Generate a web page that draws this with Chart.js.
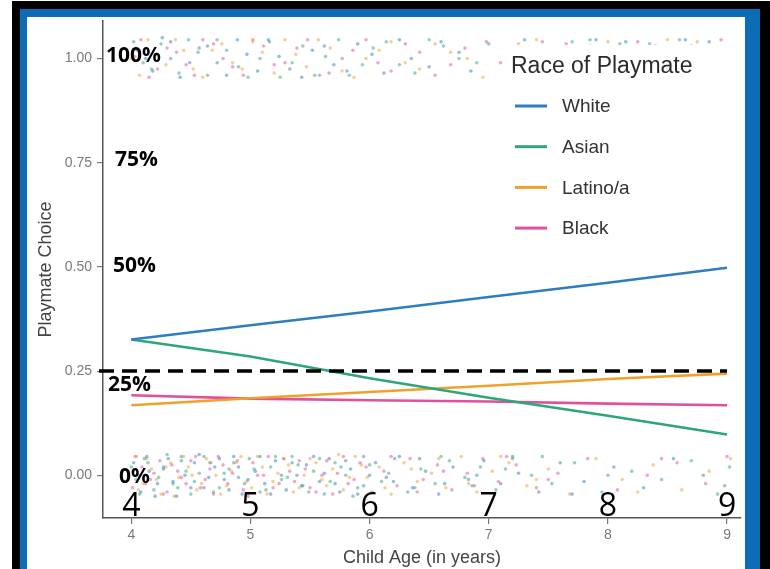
<!DOCTYPE html>
<html>
<head>
<meta charset="utf-8">
<script src="https://cdn.jsdelivr.net/npm/chart.js@4.4.1/dist/chart.umd.min.js"></script>
<style>
  html, body { margin: 0; padding: 0; background: #fff; }
  body { width: 770px; height: 569px; overflow: hidden; position: relative; }
  .frame-black { position: absolute; left: 12px; top: 1px; width: 758px; height: 600px; background: #000; }
  .frame-blue { position: absolute; left: 20px; top: 9px; width: 740px; height: 600px; background: #0a6db5; }
  .inner { position: absolute; left: 27px; top: 17px; width: 718px; height: 552px; background: #fff; }
</style>
</head>
<body>
<div class="frame-black"></div>
<div class="frame-blue"></div>
<div class="inner"><canvas id="playmate-chart" width="718" height="552"></canvas></div>

<script>
const ages = [4, 5, 6, 7, 8, 9]
const races = ['White', 'Asian', 'Latino/a', 'Black']
const whiteChoice = [0.326, 0.36, 0.393, 0.428, 0.462, 0.498]
const asianChoice = [0.326, 0.285, 0.233, 0.186, 0.143, 0.098]
const latinoChoice = [0.168, 0.185, 0.2, 0.215, 0.231, 0.244]
const blackChoice = [0.192, 0.184, 0.18, 0.177, 0.172, 0.168]
const chanceLevel = 0.25
const yTicks = [0, 0.25, 0.5, 0.75, 1]
const percentLabels = ['0%', '25%', '50%', '75%', '100%']

// raw choices (0 = not picked, 1 = picked), jittered as in the picture
const whiteDots = [
  [4.02,0.03],[4.08,-0.04],[4.15,0.01],[4.22,-0.02],[4.31,0.04],[4.38,-0.05],[4.45,0.0],[4.53,0.03],[4.61,-0.03],[4.7,0.02],
  [4.78,-0.01],[4.86,0.045],[4.93,-0.045],[5.04,0.01],[5.12,-0.02],[5.21,0.035],[5.3,-0.035],[5.39,0.0],[5.47,0.025],[5.58,-0.015],
  [5.66,0.04],[5.75,-0.04],[5.84,0.015],[5.95,-0.025],[6.05,0.03],[6.14,-0.005],[6.25,0.045],[6.36,-0.03],[6.47,0.01],[6.58,-0.045],
  [6.7,0.02],[6.83,-0.01],[6.96,0.035],[7.1,-0.02],[7.25,0.005],[7.42,-0.04],[7.6,0.03],[7.8,-0.015],[8.05,0.02],[8.3,-0.03],
  [8.55,0.04],[8.8,0.0],[8.98,-0.025],
  [4.06,0.0],[4.13,0.045],[4.2,-0.05],[4.27,0.015],[4.35,-0.015],[4.42,0.035],[4.5,-0.03],[4.57,0.05],[4.65,-0.005],[4.74,0.04],
  [4.82,-0.035],[4.9,0.02],[4.98,-0.01],[5.08,0.045],[5.17,-0.045],[5.26,0.0],[5.35,0.03],[5.43,-0.025],[5.53,0.045],[5.62,0.005],
  [5.71,-0.02],[5.8,0.035],[5.9,-0.045],[6.0,0.0],[6.2,-0.015],[6.42,0.04],[6.63,-0.02],[6.9,0.0],[7.2,0.045],[7.7,-0.045],
  [4.05,1.02],[4.18,0.97],[4.33,1.04],[4.49,0.99],[4.64,1.03],[4.8,0.96],[4.97,1.01],[5.15,1.045],[5.33,0.975],[5.52,1.02],
  [5.7,0.985],[5.9,1.035],[6.12,0.965],[6.35,1.0],[6.6,1.04],[6.85,0.97],[7.15,1.02],[7.5,0.99],[7.9,1.045],[8.4,1.03],[8.85,1.04],
  [4.12,1.0],[4.26,1.05],[4.41,0.955],[4.57,1.025],[4.72,0.99],[4.89,1.045],[5.06,0.97],[5.24,1.005],[5.43,0.955],[5.62,1.03],
  [5.81,0.97],[6.02,1.01],[6.25,1.045],[6.5,0.98],[6.75,1.015],[7.3,1.045],[8.15,1.04],[8.65,1.045]
]
const asianDots = [
  [4.04,-0.01],[4.11,0.04],[4.19,-0.035],[4.27,0.02],[4.35,-0.02],[4.42,0.045],[4.5,-0.045],[4.57,0.005],[4.66,0.03],[4.74,-0.03],
  [4.82,0.015],[4.9,-0.005],[4.99,0.04],[5.08,-0.04],[5.17,0.02],[5.26,-0.01],[5.35,0.045],[5.44,-0.025],[5.53,0.01],[5.62,-0.045],
  [5.71,0.03],[5.8,0.0],[5.9,-0.03],[6.0,0.025],[6.1,-0.015],[6.21,0.04],[6.32,-0.04],[6.43,0.015],[6.55,-0.02],[6.67,0.035],
  [6.8,-0.005],[6.93,0.02],[7.06,-0.035],[7.2,0.04],[7.36,0.0],[7.53,-0.02],[7.72,0.03],[7.95,-0.04],[8.2,0.01],[8.45,-0.01],
  [8.7,0.035],[8.92,-0.045],[9.02,0.02],
  [4.0,0.02],[4.07,-0.045],[4.14,0.03],[4.23,-0.005],[4.3,0.05],[4.39,-0.03],[4.46,0.01],[4.53,-0.015],[4.61,0.045],[4.69,-0.04],
  [4.78,0.005],[4.86,0.03],[4.95,-0.02],[5.03,0.015],[5.13,-0.035],[5.21,0.045],[5.31,-0.005],[5.4,0.025],[5.49,-0.04],[5.58,0.04],
  [5.67,-0.015],[5.76,0.02],[5.86,-0.05],[5.95,0.045],[6.16,0.005],[6.38,-0.03],[6.6,0.045],[6.86,-0.025],[7.14,0.015],[7.45,0.045],[8.0,0.0],
  [4.1,0.99],[4.25,1.035],[4.4,0.965],[4.56,1.015],[4.72,1.045],[4.9,0.98],[5.08,1.0],[5.25,0.955],[5.44,1.03],[5.63,1.005],
  [5.83,0.96],[6.03,1.025],[6.25,0.985],[6.5,1.045],[6.75,1.0],[7.0,1.035],[7.35,0.96],[7.7,1.04],[8.1,1.035],[8.6,1.045],[9.0,1.025],
  [4.02,1.04],[4.17,0.975],[4.33,1.0],[4.48,1.045],[4.64,0.96],[4.8,1.02],[4.98,0.955],[5.16,1.04],[5.35,0.99],[5.54,0.96],
  [5.74,1.045],[5.94,0.985],[6.14,1.04],[6.38,0.965],[6.62,1.03],[6.9,0.99],[7.85,1.045],[8.35,1.035]
]
const latinoDots = [
  [4.03,0.045],[4.1,-0.02],[4.17,0.015],[4.25,-0.045],[4.33,0.03],[4.4,-0.005],[4.48,0.02],[4.55,-0.035],[4.63,0.04],[4.71,0.0],
  [4.8,-0.025],[4.88,0.03],[4.97,-0.015],[5.06,0.045],[5.14,-0.045],[5.23,0.005],[5.32,0.025],[5.41,-0.03],[5.5,0.04],[5.6,-0.01],
  [5.69,0.015],[5.78,-0.035],[5.88,0.045],[5.98,-0.005],[6.08,0.02],[6.18,-0.045],[6.29,0.03],[6.4,-0.015],[6.52,0.005],[6.64,-0.03],
  [6.77,0.045],[6.9,-0.04],[7.03,0.01],[7.17,0.03],[7.32,-0.025],[7.5,0.015],[7.68,-0.045],[7.9,0.04],[8.12,-0.01],[8.38,0.025],
  [8.62,-0.035],[8.85,0.01],[9.03,0.04],
  [4.01,0.01],[4.06,-0.035],[4.13,0.04],[4.21,-0.01],[4.29,0.02],[4.36,-0.05],[4.44,0.045],[4.51,0.0],[4.59,-0.02],[4.67,0.03],
  [4.75,-0.045],[4.84,0.01],[4.92,0.045],[5.01,-0.03],[5.1,0.02],[5.19,-0.015],[5.28,0.04],[5.36,-0.04],[5.45,0.0],[5.55,0.03],
  [5.64,-0.025],[5.74,0.05],[5.83,-0.005],[5.93,0.025],[6.13,-0.03],[6.35,0.015],[6.58,0.04],[6.83,-0.02],[7.1,0.045],[7.4,-0.01],[8.25,-0.04],
  [4.07,0.96],[4.21,1.01],[4.37,1.045],[4.52,0.975],[4.68,1.02],[4.85,0.99],[5.02,1.04],[5.2,0.965],[5.38,1.01],[5.57,1.045],
  [5.77,0.97],[5.97,1.0],[6.18,1.04],[6.42,0.975],[6.68,1.015],[6.95,0.955],[7.25,1.035],[7.6,1.0],[8.0,1.04],[8.5,1.045],[9.05,1.0],
  [4.0,1.0],[4.14,1.045],[4.29,0.985],[4.44,1.02],[4.6,0.955],[4.76,1.035],[4.93,0.975],[5.1,1.015],[5.29,1.045],[5.47,0.98],
  [5.67,1.025],[5.87,0.955],[6.08,1.02],[6.3,0.99],[6.55,1.035],[6.82,1.0],[7.4,1.045],[8.75,1.04]
]
const blackDots = [
  [4.01,-0.03],[4.09,0.02],[4.16,-0.01],[4.24,0.035],[4.3,-0.04],[4.39,0.01],[4.46,-0.02],[4.54,0.045],[4.62,-0.01],[4.69,-0.045],
  [4.77,0.025],[4.85,0.005],[4.94,-0.035],[5.02,0.03],[5.11,0.0],[5.19,-0.03],[5.28,0.04],[5.37,-0.015],[5.46,0.015],[5.55,-0.04],
  [5.64,0.035],[5.73,0.005],[5.82,-0.02],[5.92,0.03],[6.02,-0.04],[6.12,0.01],[6.23,-0.025],[6.34,0.04],[6.45,-0.01],[6.57,0.025],
  [6.69,-0.035],[6.82,0.005],[6.95,0.04],[7.08,-0.015],[7.23,0.025],[7.4,-0.03],[7.58,0.005],[7.83,0.04],[8.08,-0.035],[8.33,0.0],
  [8.58,0.03],[8.82,-0.02],[9.0,0.045],
  [4.04,0.045],[4.12,-0.02],[4.19,0.005],[4.27,-0.045],[4.34,0.025],[4.42,-0.005],[4.5,0.035],[4.58,-0.03],[4.66,0.015],[4.73,0.045],
  [4.81,-0.02],[4.89,0.035],[4.98,-0.05],[5.06,0.0],[5.15,0.045],[5.24,-0.02],[5.33,0.01],[5.41,0.035],[5.5,-0.03],[5.6,0.0],
  [5.69,-0.045],[5.78,0.045],[5.87,-0.01],[5.97,0.02],[6.18,0.045],[6.4,-0.04],[6.62,0.01],[6.88,-0.025],[7.15,0.045],[7.5,-0.01],[8.45,0.04],
  [4.03,1.005],[4.15,0.955],[4.3,1.025],[4.46,0.985],[4.6,1.045],[4.77,1.0],[4.94,0.96],[5.11,1.03],[5.29,0.99],[5.48,1.045],
  [5.66,0.965],[5.86,1.02],[6.07,0.99],[6.3,1.035],[6.55,0.96],[6.8,1.025],[7.1,0.99],[7.45,1.04],[7.85,1.03],[8.25,1.04],[8.7,1.03],
  [4.08,1.045],[4.22,0.975],[4.38,1.015],[4.53,0.96],[4.69,1.035],[4.85,0.98],[5.02,1.045],[5.2,0.985],[5.39,1.025],[5.58,0.96],
  [5.77,1.0],[5.97,1.045],[6.18,0.97],[6.42,1.015],[6.68,0.985],[6.98,1.04],[7.65,1.035],[8.95,1.045]
]

const raceColors = ['#2f7dc0', '#2ea67a', '#f0a12c', '#e0509e']
const dotColors = ['rgba(47,125,192,0.5)', 'rgba(46,166,122,0.5)', 'rgba(240,161,44,0.5)', 'rgba(224,80,158,0.5)']

const lineSeries = [whiteChoice, asianChoice, latinoChoice, blackChoice]
const dotSeries = [whiteDots, asianDots, latinoDots, blackDots]

const lineDatasets = races.map((race, i) => ({
  label: race,
  data: ages.map((age, j) => ({ x: age, y: lineSeries[i][j] })),
  showLine: true,
  borderColor: raceColors[i],
  borderWidth: 2.6,
  pointRadius: 0,
  fill: false
}))

const dotDatasets = races.map((race, i) => ({
  label: race + ' raw',
  data: dotSeries[i].map(d => ({ x: d[0], y: d[1] })),
  showLine: false,
  pointRadius: 1.8,
  pointBorderWidth: 0,
  backgroundColor: dotColors[i]
}))

const overlayPlugin = {
  id: 'overlayPlugin',
  afterDatasetsDraw(chart) {
    const { ctx, chartArea, scales: { x, y } } = chart
    ctx.save()

    // legend panel sits over the jitter
    ctx.fillStyle = '#fff'
    ctx.fillRect(475, 28, chartArea.right - 475, 205)
    ctx.fillStyle = '#2b2b2b'
    ctx.font = '23px "Liberation Sans"'
    ctx.textAlign = 'left'
    ctx.textBaseline = 'middle'
    ctx.fillText('Race of Playmate', 484, 50)
    ctx.font = '19px "Liberation Sans"'
    races.forEach((race, i) => {
      const ly = 89 + i * 40.7
      ctx.strokeStyle = raceColors[i]
      ctx.lineWidth = 3
      ctx.beginPath()
      ctx.moveTo(488, ly)
      ctx.lineTo(520, ly)
      ctx.stroke()
      ctx.fillStyle = '#333'
      ctx.fillText(race, 535, ly + 1)
    })

    // chance line
    const cy = y.getPixelForValue(chanceLevel)
    ctx.strokeStyle = '#000'
    ctx.lineWidth = 3.5
    ctx.setLineDash([15, 8])
    ctx.beginPath()
    ctx.moveTo(chartArea.left - 4, cy)
    ctx.lineTo(x.getPixelForValue(ages[ages.length - 1]), cy)
    ctx.stroke()
    ctx.setLineDash([])

    // percent labels
    const dxs = [16, 5, 10, 12, 3]
    const dys = [2, 14, -1, -3, -2]
    ctx.fillStyle = '#000'
    ctx.font = 'bold 21px "Open Sans"'
    ctx.textAlign = 'left'
    yTicks.forEach((v, i) => {
      ctx.fillText(percentLabels[i], chartArea.left + dxs[i], y.getPixelForValue(v) + dys[i])
    })

    // big age numbers
    ctx.font = '32px "Open Sans"'
    ctx.textAlign = 'center'
    ctx.textBaseline = 'alphabetic'
    ages.forEach(age => {
      ctx.fillText(String(age), x.getPixelForValue(age), chartArea.bottom - 2)
    })

    ctx.restore()
  }
}

const playmateCtx = document.getElementById('playmate-chart')

const playmateChart = new Chart(playmateCtx, {
  type: 'scatter',
  data: {
    datasets: [...lineDatasets, ...dotDatasets]
  },
  options: {
    responsive: false,
    animation: false,
    layout: { padding: 0 },
    plugins: {
      legend: { display: false },
      tooltip: { enabled: false }
    },
    scales: {
      x: {
        type: 'linear',
        min: 3.7625,
        max: 9.117,
        afterBuildTicks: (s) => { s.ticks = ages.map(v => ({ value: v })) },
        afterFit: (s) => { s.height = 51; s.paddingLeft = 0; s.paddingRight = 0 },
        grid: { drawOnChartArea: false, drawTicks: true, tickLength: 6, color: '#777', lineWidth: 1.2 },
        border: { display: true, color: '#555', width: 1.5 },
        ticks: {
          color: '#7a7a7a',
          autoSkip: false,
          maxRotation: 0,
          padding: 3,
          font: { size: 14, family: 'Liberation Sans' },
          callback: (v) => String(v)
        },
        title: {
          display: true,
          text: 'Child Age (in years)',
          color: '#444',
          font: { size: 18, family: 'Liberation Sans' },
          padding: { top: 0, bottom: 0 }
        }
      },
      y: {
        type: 'linear',
        min: -0.1024,
        max: 1.09,
        afterBuildTicks: (s) => { s.ticks = yTicks.map(v => ({ value: v })) },
        afterFit: (s) => { s.width = 76; s.paddingTop = 0; s.paddingBottom = 0 },
        grid: { drawOnChartArea: false, drawTicks: true, tickLength: 6, color: '#777', lineWidth: 1.2 },
        border: { display: true, color: '#555', width: 1.5 },
        ticks: {
          color: '#7a7a7a',
          padding: 5,
          font: { size: 14, family: 'Liberation Sans' },
          callback: (v) => Number(v).toFixed(2)
        },
        title: {
          display: true,
          text: 'Playmate Choice',
          color: '#444',
          font: { size: 18, family: 'Liberation Sans' },
          padding: { top: 8, bottom: 0 }
        }
      }
    }
  },
  plugins: [overlayPlugin]
})
</script>
</body>
</html>
